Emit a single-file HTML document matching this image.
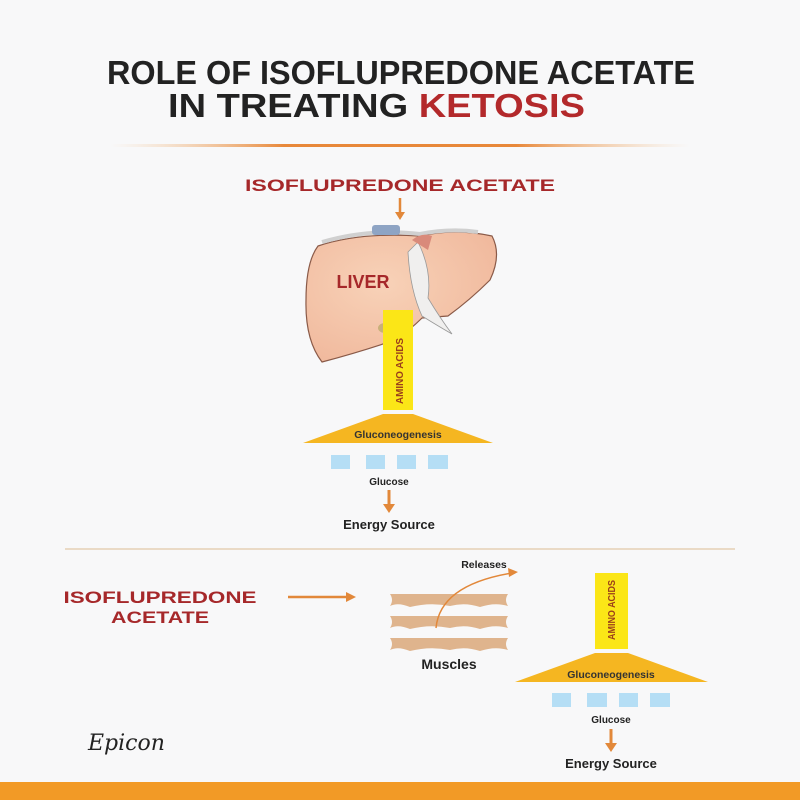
<!DOCTYPE html>
<html><head><meta charset="utf-8"><style>
html,body{margin:0;padding:0;background:#f8f8f9}
svg{display:block}
</style></head><body>
<svg width="800" height="800" viewBox="0 0 800 800" xmlns="http://www.w3.org/2000/svg" font-family="Liberation Sans, sans-serif">
<defs>
<linearGradient id="gl" x1="0" x2="1"><stop offset="0" stop-color="#f3c99a" stop-opacity="0"/><stop offset="0.3" stop-color="#e8883a"/><stop offset="0.7" stop-color="#e8883a"/><stop offset="1" stop-color="#f3c99a" stop-opacity="0"/></linearGradient>
<radialGradient id="lv" cx="0.4" cy="0.4" r="0.7"><stop offset="0" stop-color="#f8d2b8"/><stop offset="1" stop-color="#f0b89c"/></radialGradient>
</defs>
<rect width="800" height="800" fill="#f8f8f9"/>
<text x="401" y="84" text-anchor="middle" font-size="33" font-weight="bold" fill="#222" textLength="588" lengthAdjust="spacingAndGlyphs">ROLE OF ISOFLUPREDONE ACETATE</text>
<text x="168" y="117" font-size="33" font-weight="bold" fill="#222" textLength="417" lengthAdjust="spacingAndGlyphs">IN TREATING <tspan fill="#b3292b">KETOSIS</tspan></text>
<rect x="110" y="144" width="580" height="3" fill="url(#gl)"/>
<text x="400" y="191" text-anchor="middle" font-size="17" font-weight="bold" fill="#a6282a" textLength="310" lengthAdjust="spacingAndGlyphs">ISOFLUPREDONE ACETATE</text>
<line x1="400" y1="198" x2="400" y2="214" stroke="#e2883a" stroke-width="2.5"/>
<polygon points="395,212 405,212 400,220" fill="#e2883a"/>
<!-- liver -->
<path d="M318,246 Q360,232 420,236 Q455,228 492,236 Q502,255 490,280 Q470,300 448,316 L422,318 Q410,330 395,340 Q360,352 322,362 Q305,340 306,300 Q306,262 318,246 Z" fill="url(#lv)" stroke="#8a5a48" stroke-width="1.2"/>
<path d="M418,242 Q432,270 428,298 Q440,318 452,334 Q438,326 422,316 Q410,290 408,252 Z" fill="#f0efee" stroke="#999" stroke-width="0.8"/>
<path d="M322,242 Q370,228 420,234 Q450,228 478,232" fill="none" stroke="#d0d0d0" stroke-width="4"/>
<path d="M412,240 Q422,232 432,236 L428,250 Z" fill="#d98a7a"/>
<rect x="372" y="225" width="28" height="10" rx="3" fill="#8ea4c4"/>
<ellipse cx="385" cy="328" rx="7" ry="5" fill="#c9b07a"/>
<text x="363" y="288" text-anchor="middle" font-size="18" font-weight="bold" fill="#a6282a">LIVER</text>
<!-- top pathway -->
<rect x="383" y="310" width="30" height="100" fill="#fbe617"/>
<text transform="translate(403,404) rotate(-90)" font-size="10.5" font-weight="bold" fill="#9b3f1b" textLength="66" lengthAdjust="spacingAndGlyphs">AMINO ACIDS</text>
<polygon points="383,414 413,414 493,443 303,443" fill="#f5b621"/>
<text x="398" y="438" text-anchor="middle" font-size="10.5" font-weight="bold" fill="#333">Gluconeogenesis</text>
<g fill="#b5def5"><rect x="331" y="455" width="19" height="14"/><rect x="366" y="455" width="19" height="14"/><rect x="397" y="455" width="19" height="14"/><rect x="428" y="455" width="20" height="14"/></g>
<text x="389" y="485" text-anchor="middle" font-size="10" font-weight="bold" fill="#222">Glucose</text>
<line x1="389" y1="490" x2="389" y2="506" stroke="#e2883a" stroke-width="3"/>
<polygon points="383,504 395,504 389,513" fill="#e2883a"/>
<text x="389" y="529" text-anchor="middle" font-size="13" font-weight="bold" fill="#222">Energy Source</text>
<line x1="65" y1="549" x2="735" y2="549" stroke="#e6cfb5" stroke-width="1.5"/>
<!-- bottom left -->
<text x="160" y="603" text-anchor="middle" font-size="17" font-weight="bold" fill="#a6282a" textLength="193" lengthAdjust="spacingAndGlyphs">ISOFLUPREDONE</text>
<text x="160" y="623" text-anchor="middle" font-size="17" font-weight="bold" fill="#a6282a" textLength="98" lengthAdjust="spacingAndGlyphs">ACETATE</text>
<line x1="288" y1="597" x2="348" y2="597" stroke="#e2883a" stroke-width="2.5"/>
<polygon points="346,592 356,597 346,602" fill="#e2883a"/>
<!-- muscles -->
<g fill="#dfb48d">
<path d="M390,594 L508,594 Q504,600 508,606 Q495,602 480,607 Q465,602 450,606 Q430,602 410,607 Q398,602 390,606 Q394,600 390,594Z"/>
<path d="M390,616 L508,616 Q504,622 508,628 Q495,624 480,629 Q465,624 450,628 Q430,624 410,629 Q398,624 390,628 Q394,622 390,616Z"/>
<path d="M390,638 L508,638 Q504,644 508,650 Q495,646 480,651 Q465,646 450,650 Q430,646 410,651 Q398,646 390,650 Q394,644 390,638Z"/>
</g>
<path d="M436,628 Q440,585 512,573" fill="none" stroke="#e2883a" stroke-width="1.5"/>
<polygon points="508,568 518,572 509,577" fill="#e2883a"/>
<text x="484" y="568" text-anchor="middle" font-size="10.5" font-weight="bold" fill="#222">Releases</text>
<text x="449" y="669" text-anchor="middle" font-size="14" font-weight="bold" fill="#222">Muscles</text>
<!-- bottom pathway -->
<rect x="595" y="573" width="33" height="76" fill="#fbe617"/>
<text transform="translate(615,640) rotate(-90)" font-size="10.5" font-weight="bold" fill="#9b3f1b" textLength="60" lengthAdjust="spacingAndGlyphs">AMINO ACIDS</text>
<polygon points="595,653 628,653 708,682 515,682" fill="#f5b621"/>
<text x="611" y="678" text-anchor="middle" font-size="10.5" font-weight="bold" fill="#333">Gluconeogenesis</text>
<g fill="#b5def5"><rect x="552" y="693" width="19" height="14"/><rect x="587" y="693" width="20" height="14"/><rect x="619" y="693" width="19" height="14"/><rect x="650" y="693" width="20" height="14"/></g>
<text x="611" y="723" text-anchor="middle" font-size="10" font-weight="bold" fill="#222">Glucose</text>
<line x1="611" y1="729" x2="611" y2="745" stroke="#e2883a" stroke-width="3"/>
<polygon points="605,743 617,743 611,752" fill="#e2883a"/>
<text x="611" y="768" text-anchor="middle" font-size="13" font-weight="bold" fill="#222">Energy Source</text>
<text x="88" y="750" font-family="DejaVu Serif, serif" font-style="italic" font-size="22" fill="#222">Epicon</text>
<rect x="0" y="782" width="800" height="18" fill="#f29a26"/>
</svg>
</body></html>
